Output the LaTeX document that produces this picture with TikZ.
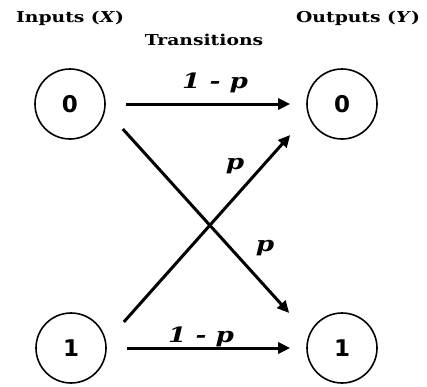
\documentclass[tikz,border=0pt]{standalone}
\usepackage{fontspec}
\setmainfont{DejaVu Serif}
\newfontfamily\widefont[FakeStretch=1.25]{DejaVu Serif}
\newfontfamily\digitfont{DejaVu Sans}
\usetikzlibrary{arrows.meta}

\begin{document}
\begin{tikzpicture}[x=1pt, y=1pt,
  state/.style={circle, draw, line width=1.6pt, minimum size=70pt, inner sep=0pt,
    font=\digitfont\bfseries\fontsize{23}{23}\selectfont},
  title/.style={font=\widefont\bfseries\fontsize{15}{15}\selectfont},
  prob/.style={font=\widefont\bfseries\itshape\fontsize{21}{21}\selectfont},
  arr/.style={line width=3pt, -{Triangle[length=12pt,width=11pt]}}]

\useasboundingbox (0,0) rectangle (427,-386);

% headings
\node[title] (hin)  at (70,-18)  {Inputs (\textit{X})};
\node[title] (hout) at (358,-18) {Outputs (\textit{Y})};
\node[title] (htr)  at (204,-40) {Transitions};

% input and output symbols
\node[state] (in0)  at (70,-104)  {0};
\node[state] (in1)  at (71,-348)  {1};
\node[state] (out0) at (342,-104) {0};
\node[state] (out1) at (342,-348) {1};

% straight transitions
\draw[arr, shorten <=20pt, shorten >=16pt] (in0) -- (out0);
\draw[arr, shorten <=20pt, shorten >=16pt] (in1) -- (out1);

% crossed transitions
\draw[arr] ([xshift=17pt,yshift=-25pt]in0.east) -- ([xshift=-17pt,yshift=35pt]out1.west);
\draw[arr] ([xshift=17pt,yshift=26pt]in1.east) -- ([xshift=-16pt,yshift=-31pt]out0.west);

% probabilities
\node[prob] (p00) at (215,-83)  {1 - p};
\node[prob] (p11) at (201,-337) {1 - p};
\node[prob] (p10) at (235,-166) {p};
\node[prob] (p01) at (265,-248) {p};

\end{tikzpicture}
\end{document}
